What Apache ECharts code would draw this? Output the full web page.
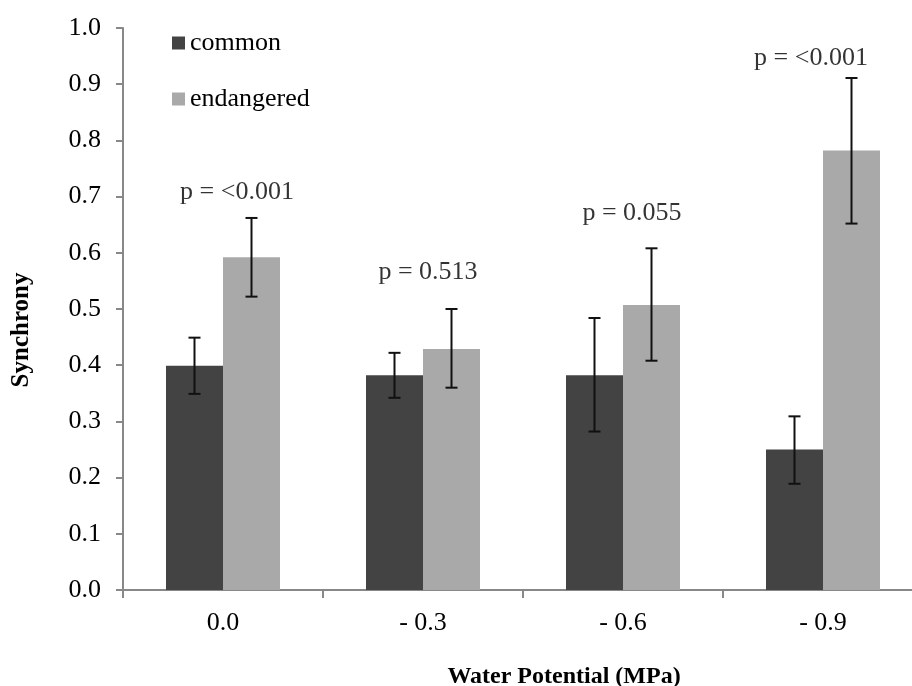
<!DOCTYPE html>
<html>
<head>
<meta charset="utf-8">
<script src="https://cdn.jsdelivr.net/npm/echarts@6/dist/echarts.min.js"></script>
<style>
  html, body { margin: 0; padding: 0; background: #fff; }
  #chart { width: 912px; height: 686px; }
</style>
</head>
<body>
<div id="chart"></div>
<script>
// data
var categories = ['0.0', '- 0.3', '- 0.6', '- 0.9'];
var seriesNames = ['common', 'endangered'];
var common = [0.399, 0.382, 0.382, 0.250];
var commonLow = [0.349, 0.342, 0.282, 0.189];
var commonHigh = [0.449, 0.422, 0.484, 0.309];
var endangered = [0.592, 0.429, 0.507, 0.782];
var endangeredLow = [0.522, 0.360, 0.408, 0.652];
var endangeredHigh = [0.662, 0.500, 0.608, 0.911];
var pLabels = ['p = <0.001', 'p = 0.513', 'p = 0.055', 'p = <0.001'];
var pLabelY = [0.707, 0.566, 0.671, 0.947];

var FONT = 'Liberation Serif';
var BAR_FRAC = 0.285;  // bar width as share of the category band
var labelShift = [14, 5, 9, -12];

function errorBars(low, high, side) {
    return {
        type: 'custom',
        z: 5,
        silent: true,
        data: low.map(function (v, i) { return [i, v, high[i]]; }),
        renderItem: function (params, api) {
            var i = api.value(0);
            var band = api.size([1, 0])[0];
            var lo = api.coord([i, api.value(1)]);
            var hi = api.coord([i, api.value(2)]);
            var x = lo[0] + side * band * BAR_FRAC / 2;
            var cap = 6;
            var style = { stroke: '#111', lineWidth: 2 };
            return {
                type: 'group',
                children: [
                    { type: 'line', shape: { x1: x, y1: lo[1], x2: x, y2: hi[1] }, style: style },
                    { type: 'line', shape: { x1: x - cap, y1: lo[1], x2: x + cap, y2: lo[1] }, style: style },
                    { type: 'line', shape: { x1: x - cap, y1: hi[1], x2: x + cap, y2: hi[1] }, style: style }
                ]
            };
        }
    };
}

var myChart = echarts.init(document.getElementById('chart'));
var option = {
    animation: false,
    backgroundColor: '#fff',
    textStyle: { fontFamily: FONT },
    grid: { left: 123, width: 800, top: 28, bottom: 96, outerBoundsMode: 'none', containLabel: false },
    legend: {
        orient: 'vertical',
        left: 172,
        top: 30,
        padding: 0,
        itemWidth: 13,
        itemHeight: 13,
        itemGap: 30,
        selectedMode: false,
        icon: 'rect',
        data: seriesNames,
        textStyle: { fontFamily: FONT, fontSize: 26, color: '#000', lineHeight: 26 }
    },
    xAxis: {
        type: 'category',
        data: categories,
        axisLine: { lineStyle: { color: '#888', width: 2 } },
        axisTick: { show: true, length: 8, lineStyle: { color: '#888', width: 2 } },
        axisLabel: { fontFamily: FONT, fontSize: 26, color: '#000', margin: 20 }
    },
    yAxis: {
        type: 'value',
        min: 0,
        max: 1,
        interval: 0.1,
        axisLine: { show: true, lineStyle: { color: '#888', width: 2 } },
        axisTick: { show: true, inside: false, length: 7, lineStyle: { color: '#888', width: 2 } },
        splitLine: { show: false },
        axisLabel: {
            fontFamily: FONT, fontSize: 26, color: '#000', margin: 22,
            formatter: function (v) { return v.toFixed(1); }
        }
    },
    graphic: [
        {
            type: 'text', x: 22, y: 330, rotation: Math.PI / 2,
            style: { text: 'Synchrony', font: 'bold 25px "Liberation Serif"', fill: '#000', align: 'center', verticalAlign: 'middle' }
        },
        {
            type: 'text', x: 564, y: 677,
            style: { text: 'Water Potential (MPa)', font: 'bold 24px "Liberation Serif"', fill: '#000', align: 'center', verticalAlign: 'middle' }
        }
    ],
    series: [
        {
            name: seriesNames[0],
            type: 'bar',
            data: common,
            barWidth: (BAR_FRAC * 100) + '%',
            barGap: '0%',
            itemStyle: { color: '#434343' }
        },
        {
            name: seriesNames[1],
            type: 'bar',
            data: endangered,
            barWidth: (BAR_FRAC * 100) + '%',
            barGap: '0%',
            itemStyle: { color: '#a9a9a9' }
        },
        errorBars(commonLow, commonHigh, -1),
        errorBars(endangeredLow, endangeredHigh, 1),
        {
            type: 'scatter',
            symbolSize: 0,
            silent: true,
            data: pLabelY.map(function (y, i) {
                return {
                    value: [i, y],
                    label: {
                        show: true, position: 'inside', offset: [labelShift[i], 0],
                        formatter: pLabels[i],
                        fontFamily: FONT, fontSize: 26, color: '#000'
                    }
                };
            })
        }
    ]
};
myChart.setOption(option);
</script>
</body>
</html>
